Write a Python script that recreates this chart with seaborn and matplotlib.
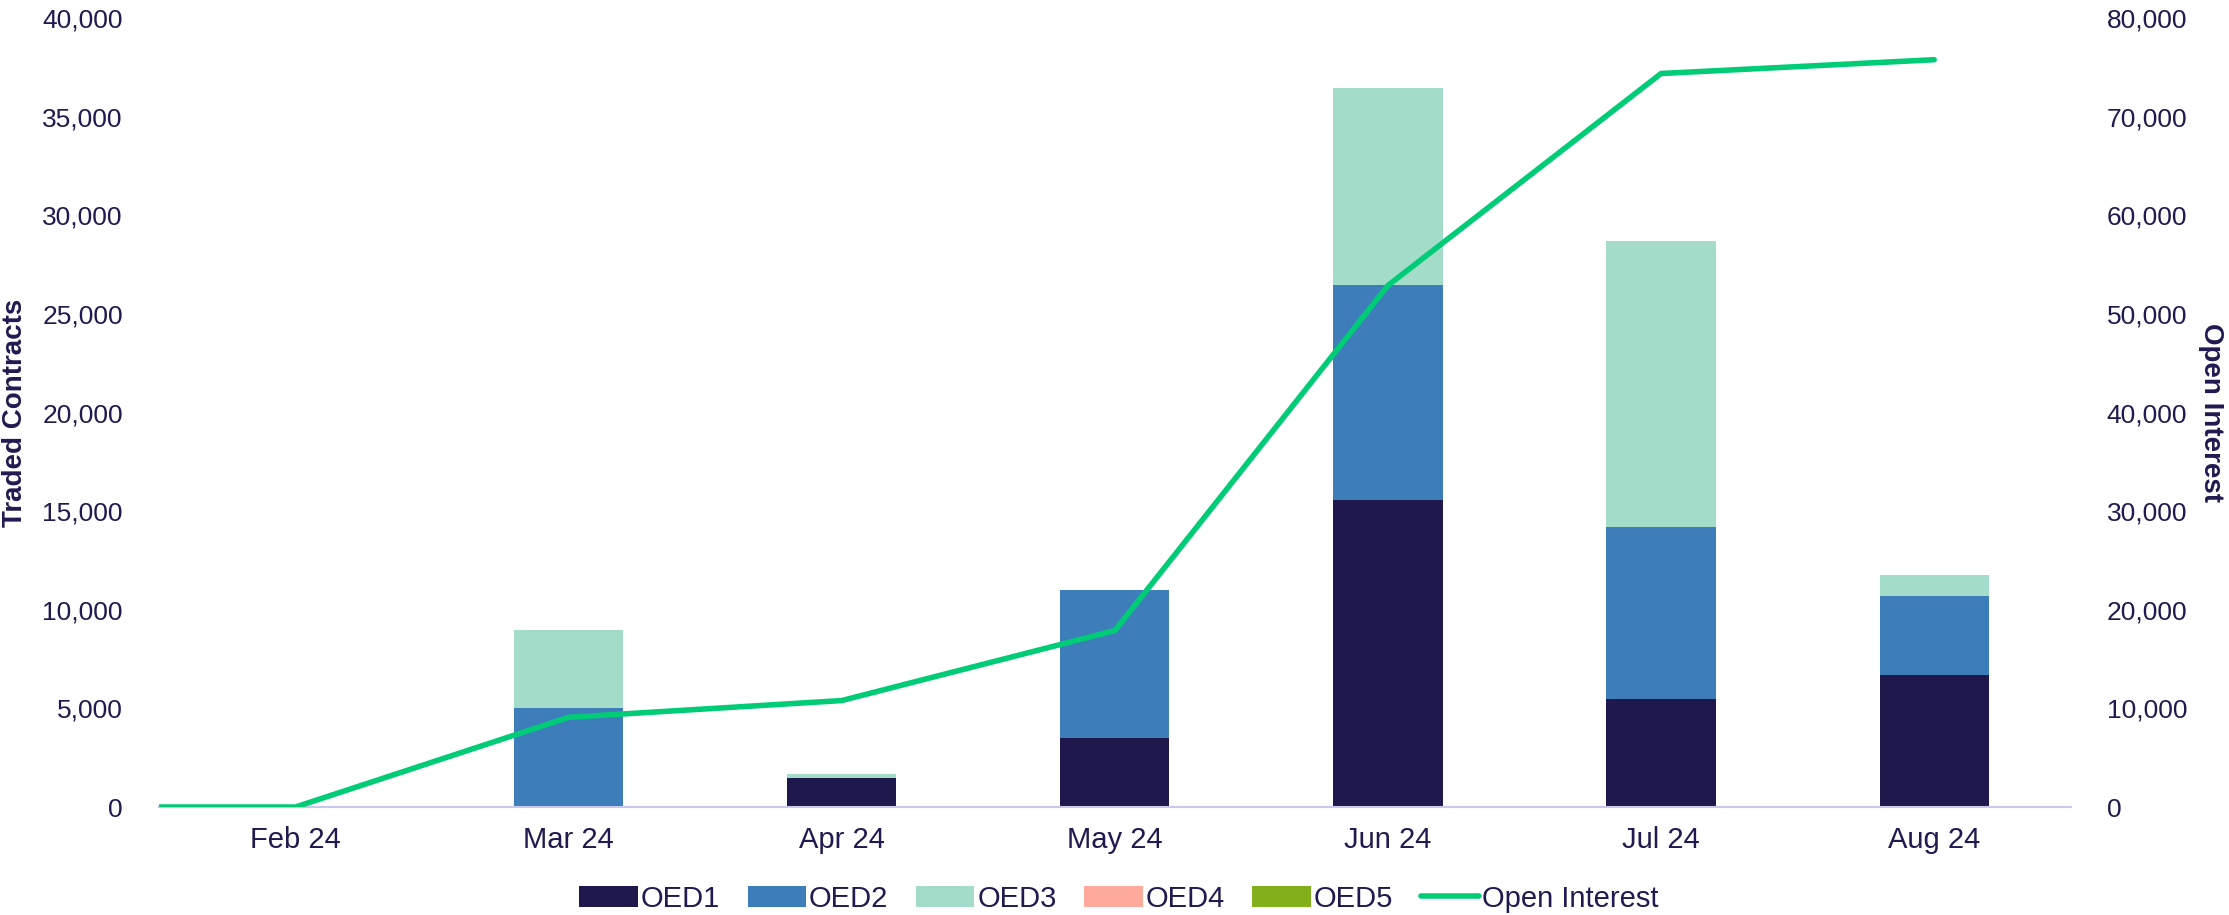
import numpy as np
import pandas as pd
import matplotlib.pyplot as plt
import matplotlib.ticker as mticker
from matplotlib.patches import Patch
from matplotlib.lines import Line2D
import seaborn as sns

months = ["Feb 24", "Mar 24", "Apr 24", "May 24", "Jun 24", "Jul 24", "Aug 24"]
oed1 = [0, 0, 1450, 3500, 15550, 5500, 6700]
oed2 = [0, 5000, 0, 7500, 10900, 8700, 4000]
oed3 = [0, 4000, 200, 0, 10000, 14500, 1050]
oed4 = [0, 0, 0, 0, 0, 0, 0]
oed5 = [0, 0, 0, 0, 0, 0, 0]
open_interest = [0, 9100, 10800, 17900, 52900, 74400, 75800]

series = {"OED1": oed1, "OED2": oed2, "OED3": oed3, "OED4": oed4, "OED5": oed5}
colors = {"OED1": "#1F184D", "OED2": "#3D7DBA", "OED3": "#A3DDC9",
          "OED4": "#FDA99B", "OED5": "#82B01A"}
line_color = "#00CC78"
text_color = "#1F1A4F"

sns.set_style("white")
plt.rcParams["font.family"] = ["Liberation Sans", "DejaVu Sans"]

fig, ax = plt.subplots(figsize=(22.29, 9.15), dpi=100)
fig.subplots_adjust(left=0.0713, right=0.929, bottom=0.118, top=0.980)

# stacked bars: draw cumulative totals, top layer first
df = pd.DataFrame(series, index=months)
cum = df.cumsum(axis=1)
for name in reversed(list(series)):
    sns.barplot(x=months, y=cum[name].values, color=colors[name], width=0.4,
                linewidth=0, saturation=1, ax=ax)

ax.set_ylim(0, 40000)
ax.set_xlim(-0.5, len(months) - 0.5)
ax.yaxis.set_major_locator(mticker.MultipleLocator(5000))
ax.yaxis.set_major_formatter(mticker.StrMethodFormatter("{x:,.0f}"))
ax.set_ylabel("Traded Contracts", fontsize=20, fontweight="bold", color=text_color, labelpad=10)
ax.tick_params(axis="y", length=0, pad=26, labelsize=19, labelcolor=text_color)
ax.tick_params(axis="x", length=0, pad=14, labelsize=21, labelcolor=text_color)
for s in ["top", "left", "right"]:
    ax.spines[s].set_visible(False)
ax.spines["bottom"].set_color("#C8C8EA")
ax.spines["bottom"].set_linewidth(1.5)

# open interest on secondary axis
ax2 = ax.twinx()
line_x = [-0.5] + list(range(len(months)))
line_y = [0] + open_interest
sns.lineplot(x=line_x, y=line_y, color=line_color, linewidth=4, ax=ax2, zorder=5)
ax2.set_ylim(0, 80000)
ax2.set_xlim(-0.5, len(months) - 0.5)
ax2.yaxis.set_major_locator(mticker.MultipleLocator(10000))
ax2.yaxis.set_major_formatter(mticker.StrMethodFormatter("{x:,.0f}"))
ax2.set_ylabel("Open Interest", fontsize=20, fontweight="bold", color=text_color,
               rotation=270, labelpad=26)
ax2.tick_params(axis="y", length=0, pad=26, labelsize=19, labelcolor=text_color)
for s in ax2.spines.values():
    s.set_visible(False)

handles = [Patch(facecolor=colors[n], edgecolor="none") for n in series]
handles.append(Line2D([0], [0], color=line_color, linewidth=4))
labels = list(series) + ["Open Interest"]
fig.legend(handles, labels, loc="lower center", bbox_to_anchor=(0.502, -0.026), ncol=6,
           frameon=False, fontsize=21, handlelength=2.0, handleheight=0.7,
           columnspacing=0.95, handletextpad=0.1, labelcolor=text_color)

fig.savefig("out.png", dpi=100)
